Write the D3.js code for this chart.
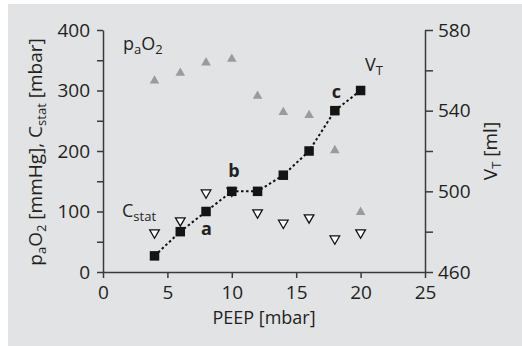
<!DOCTYPE html>
<html>
<head>
<meta charset="utf-8">
<script src="https://cdn.jsdelivr.net/npm/d3@7"></script>
<style>
  body { margin: 0; background: #fff; }
  svg { display: block; font-family: 'Open Sans', sans-serif; }
  .axis text { font-size: 19px; fill: #231f20; font-family: 'Open Sans', sans-serif; }
  .axis path, .axis line { stroke: #3a3a3a; stroke-width: 1.5; }
</style>
</head>
<body>
<svg width="522" height="346"></svg>
<script>
const peep = [4, 6, 8, 10, 12, 14, 16, 18, 20];
const vt = [468, 480, 490, 500, 500, 508, 520, 540, 550];
const pao2 = [316, 329, 346, 352, 291, 264, 259, 201, 99];
const cstat = [65, 85, 131, 134, 98, 81, 90, 55, 65];
const xTicks = [0, 5, 10, 15, 20, 25];
const leftTicks = d3.range(0, 401, 50);
const rightTicks = d3.range(460, 581, 20);
const letters = [{ label: 'a', i: 2 }, { label: 'b', i: 3 }, { label: 'c', i: 7 }];

const svg = d3.select('svg');
const width = +svg.attr('width');
const height = +svg.attr('height');

svg.append('rect')
    .attr('x', 8).attr('y', 4)
    .attr('width', width - 8).attr('height', height - 4)
    .attr('fill', '#e2e3e5');

const margin = { top: 30, right: 97, bottom: 74, left: 103 };
const innerWidth = width - margin.left - margin.right;
const innerHeight = height - margin.top - margin.bottom;

const xScale = d3.scaleLinear().domain([0, 25]).range([0, innerWidth]);
const yLeft = d3.scaleLinear().domain([0, 400]).range([innerHeight, 0]);
const yRight = d3.scaleLinear().domain([460, 580]).range([innerHeight, 0]);

const g = svg.append('g')
    .attr('transform', `translate(${margin.left},${margin.top})`);

// axes
g.append('g').attr('class', 'axis')
    .attr('transform', `translate(0,${innerHeight})`)
    .call(d3.axisBottom(xScale).tickValues(xTicks).tickSize(6).tickSizeOuter(0).tickPadding(5))
    .selectAll('text').attr('dy', '0.85em');

g.append('g').attr('class', 'axis')
    .call(d3.axisLeft(yLeft).tickValues(leftTicks).tickSize(6).tickSizeOuter(0).tickPadding(7)
        .tickFormat(d => d % 100 === 0 ? d : ''))
    .selectAll('text').filter(function() { return this.textContent === ''; }).remove();

g.append('g').attr('class', 'axis')
    .attr('transform', `translate(${innerWidth},0)`)
    .call(d3.axisRight(yRight).tickValues(rightTicks).tickSize(8).tickSizeOuter(0).tickPadding(5)
        .tickFormat(d => (d - 460) % 40 === 0 ? d : ''))
    .selectAll('text').filter(function() { return this.textContent === ''; }).remove();

// axis titles
g.append('text')
    .attr('x', innerWidth / 2).attr('y', innerHeight + 52)
    .attr('text-anchor', 'middle')
    .style('font-size', '18px').attr('fill', '#231f20')
    .text('PEEP [mbar]');

const subText = (sel, parts) => {
    parts.forEach(p => {
        if (p.sub) {
            sel.append('tspan').attr('dy', 4).style('font-size', '13px').text(p.t);
        } else {
            sel.append('tspan').attr('dy', p.after ? -4 : 0).text(p.t);
        }
    });
};

const yTitle = g.append('text')
    .attr('transform', `translate(${41.5 - margin.left},${innerHeight / 2 + 1}) rotate(-90)`)
    .attr('text-anchor', 'middle')
    .style('font-size', '19px').attr('fill', '#231f20');
subText(yTitle, [
    { t: 'p' }, { t: 'a', sub: true }, { t: 'O', after: true }, { t: '2', sub: true },
    { t: ' [mmHg], C', after: true }, { t: 'stat', sub: true }, { t: ' [mbar]', after: true }
]);

const y2Title = g.append('text')
    .attr('transform', `translate(${innerWidth + 72},${innerHeight / 2}) rotate(-90)`)
    .attr('text-anchor', 'middle')
    .style('font-size', '19px').attr('fill', '#231f20');
subText(y2Title, [{ t: 'V' }, { t: 'T', sub: true }, { t: ' [ml]', after: true }]);

// dotted V_T line
const line = d3.line()
    .x((d, i) => xScale(peep[i]))
    .y(d => yRight(d));

g.append('path')
    .datum(vt)
    .attr('d', line)
    .attr('fill', 'none')
    .attr('stroke', '#111')
    .attr('stroke-width', 2)
    .attr('stroke-dasharray', '2.5,2.5');

// pO2 triangles (grey, up)
const triUp = d3.symbol().type(d3.symbolTriangle).size(40);
g.selectAll('.pao2').data(pao2).enter().append('path')
    .attr('class', 'pao2')
    .attr('d', triUp)
    .attr('transform', (d, i) => `translate(${xScale(peep[i])},${yLeft(d)})`)
    .attr('fill', '#9b9b9b');

// Cstat triangles (open, down)
g.selectAll('.cstat').data(cstat).enter().append('path')
    .attr('class', 'cstat')
    .attr('d', triUp)
    .attr('transform', (d, i) => `translate(${xScale(peep[i])},${yLeft(d)}) rotate(180)`)
    .attr('fill', '#fff')
    .attr('stroke', '#111')
    .attr('stroke-width', 1.3);

// V_T squares
const sq = 9.5;
g.selectAll('.vt').data(vt).enter().append('rect')
    .attr('class', 'vt')
    .attr('x', (d, i) => xScale(peep[i]) - sq / 2)
    .attr('y', d => yRight(d) - sq / 2)
    .attr('width', sq).attr('height', sq)
    .attr('fill', '#141414');

// letters a, b, c
const letterPos = { a: [206.5 - margin.left, 234.5 - margin.top], b: [234 - margin.left, 177 - margin.top], c: [336.5 - margin.left, 97.5 - margin.top] };
g.selectAll('.letter').data(letters).enter().append('text')
    .attr('class', 'letter')
    .attr('x', d => letterPos[d.label][0])
    .attr('y', d => letterPos[d.label][1])
    .attr('text-anchor', 'middle')
    .style('font-size', '18px').style('font-weight', 'bold')
    .attr('fill', '#231f20')
    .text(d => d.label);

// series labels
const pLabel = g.append('text')
    .attr('x', 123 - margin.left).attr('y', 50 - margin.top)
    .style('font-size', '18px').attr('fill', '#231f20');
subText(pLabel, [{ t: 'p' }, { t: 'a', sub: true }, { t: 'O', after: true }, { t: '2', sub: true }]);

const vLabel = g.append('text')
    .attr('x', 365 - margin.left).attr('y', 71 - margin.top)
    .style('font-size', '18px').attr('fill', '#231f20');
subText(vLabel, [{ t: 'V' }, { t: 'T', sub: true }]);

const cLabel = g.append('text')
    .attr('x', 122 - margin.left).attr('y', 216.5 - margin.top)
    .style('font-size', '18px').attr('fill', '#231f20');
subText(cLabel, [{ t: 'C' }, { t: 'stat', sub: true }]);
</script>
</body>
</html>
